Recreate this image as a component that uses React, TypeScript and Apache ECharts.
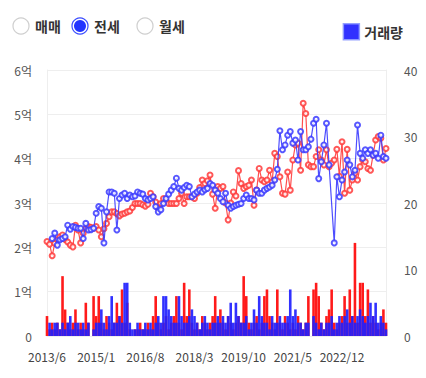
import React, { useEffect, useRef } from 'react';
import * as echarts from 'echarts';

const startYear = 2013;
const startMonth = 6;
const monthCount = 132;
const categories: string[] = [];
for (let i = 0; i < monthCount; i++) {
  const m = startMonth - 1 + i;
  categories.push(`${startYear + Math.floor(m / 12)}/${(m % 12) + 1}`);
}

const radioLabels = ['매매', '전세', '월세'];
const selectedRadio = 1;
const volumeLegend = '거래량';

// price (억)
const redPrice: (number | null)[] = [
  2.13, 2.07, 1.81, 2.09, 2.17, 2.24, 2.28, 2.18, 2.12, 2.05,
  2.01, 2.5, 2.39, 2.1, 2.32, 2.43, 2.47, 2.45, 2.43, 2.47,
  2.39, 2.24, 2.42, 2.54, 2.69, 2.8, 2.8, 2.76, 2.71, 2.75,
  2.77, 2.8, 2.82, 2.9, 2.99, 2.99, 2.99, 2.96, 2.93, 2.97,
  3.22, 3.14, 3.02, 2.88, 2.99, 3.1, 3.05, 2.99, 2.99, 2.99,
  2.99, 3.1, 3.22, 2.99, 3.14, 3.14, 3.14, 3.1, 3.22, 3.35,
  3.52, 3.44, 3.5, 3.63, 3.2, 2.88, 3.37, 3.33, 3.37, 3.0,
  2.62, 3.0, 3.25, 3.16, 3.73, 3.44, 3.33, 3.37, 3.4, 3.52,
  2.95, 3.29, 3.78, 3.52, 3.48, 3.52, 3.74, 3.48, 4.12, 4.05,
  3.59, 3.22, 3.2, 3.7, 3.29, 3.97, 4.31, 4.35, 3.74, 5.25,
  5.02, 3.86, 3.82, 3.82, 4.05, 4.2, 3.97, 3.86, 4.2, 3.82,
  3.9, 3.97, 4.21, 3.6, 4.38, 3.22, 4.21, 3.29, 3.52, 3.67,
  3.52, 3.82, 3.97, 3.93, 3.78, 3.74, 4.08, 4.42, 4.5, 4.46,
  3.97, 4.23,
];

const bluePrice: (number | null)[] = [
  null, null, 2.2, 2.32, 2.05, 2.17, 2.2, 2.24, 2.5, 2.41,
  2.47, 2.45, 2.43, 2.43, 2.2, 2.54, 2.39, 2.4, 2.43, 2.77,
  2.92, 2.88, 2.1, 2.8, 3.25, 3.25, 3.22, 2.39, 3.1, 3.18,
  3.22, 3.1, 3.18, 3.14, 3.16, 3.25, 3.22, 3.2, 3.1, 3.07,
  3.1, 3.14, 2.92, 2.8, 2.85, 2.99, 3.1, 3.2, 3.29, 3.37,
  3.56, 3.33, 3.29, 3.35, 3.4, 3.37, 3.14, 3.2, 3.25, 3.29,
  3.25, 3.3, 3.33, 3.44, 3.4, 3.29, 3.22, 3.1, 3.03, 3.22,
  2.95, 2.88, 2.92, 2.95, 2.97, 2.99, 3.1, 3.18, 3.1, 3.1,
  3.07, 3.29, 3.22, 3.22, 3.29, 3.33, 3.36, 3.4, 3.52, 3.76,
  4.63, 4.2, 4.31, 4.53, 4.61, 4.35, 4.42, 3.97, 4.61, 4.2,
  4.2, 4.27, 4.44, 4.8, 4.89, 3.55, 3.93, 4.31, 4.8, 3.86,
  null, 2.1, 3.59, 3.14, 3.52, 3.7, 3.97, 3.86, 3.59, 3.74,
  4.76, 4.12, 4.01, 4.2, 4.12, 4.2, 4.08, 4.12, 4.01, 4.53,
  4.05, 4.01,
];

// volume (건)
const redVolume: number[] = [
  3, 1, 2, 1, 2, 1, 9, 4, 2, 1,
  2, 4, 1, 2, 1, 5, 2, 0, 6, 3,
  6, 2, 1, 3, 2, 1, 2, 5, 3, 7,
  2, 5, 1, 0, 1, 1, 2, 1, 1, 2,
  1, 3, 6, 2, 1, 2, 3, 1, 2, 3,
  6, 2, 1, 8, 3, 7, 2, 1, 2, 1,
  3, 2, 1, 2, 3, 6, 2, 4, 2, 1,
  3, 2, 1, 2, 3, 2, 9, 6, 2, 1,
  2, 3, 1, 2, 6, 7, 3, 2, 1, 7,
  2, 1, 3, 2, 1, 2, 1, 3, 2, 1,
  2, 6, 0, 7, 8, 6, 2, 1, 3, 4,
  7, 2, 1, 2, 3, 6, 2, 7, 3, 14,
  2, 8, 8, 3, 7, 2, 3, 2, 1, 2,
  4, 2,
];

const blueVolume: number[] = [
  0, 2, 1, 2, 2, 1, 2, 1, 2, 3,
  1, 2, 2, 1, 2, 1, 2, 0, 1, 2,
  2, 4, 2, 1, 3, 6, 2, 2, 3, 2,
  8, 8, 2, 1, 1, 2, 1, 1, 2, 1,
  2, 1, 2, 3, 2, 6, 6, 4, 3, 2,
  2, 6, 3, 2, 2, 3, 4, 3, 2, 1,
  2, 3, 2, 1, 2, 2, 3, 2, 3, 2,
  3, 5, 2, 5, 3, 2, 2, 3, 1, 2,
  4, 2, 6, 3, 2, 2, 1, 3, 2, 2,
  3, 2, 2, 3, 7, 3, 4, 2, 2, 1,
  2, 2, 0, 3, 2, 1, 2, 1, 2, 2,
  3, 1, 2, 3, 2, 3, 4, 2, 3, 2,
  3, 4, 3, 2, 3, 5, 3, 5, 2, 3,
  2, 1,
];

const RED = '#ff1a1a';
const BLUE = '#1f1fff';
const LINE_RED = '#ff3b3b';
const LINE_BLUE = '#3b3bff';
const FONT = "'Noto Sans CJK KR', 'Noto Sans', sans-serif";

export default function App() {
  const ref = useRef<HTMLDivElement>(null);
  useEffect(() => {
    document.body.style.margin = '0';
    if (!ref.current) return;
    const chart = echarts.init(ref.current, null, { renderer: 'svg' });
    const radioX = [21, 80, 145];
    const graphics: any[] = [];
    radioLabels.forEach((label, i) => {
      const sel = i === selectedRadio;
      graphics.push({
        type: 'circle',
        shape: { cx: radioX[i], cy: 26, r: 8 },
        style: { fill: '#fff', stroke: sel ? '#3a4cff' : '#cfcfcf', lineWidth: 1.2 },
      });
      if (sel) {
        graphics.push({
          type: 'circle',
          shape: { cx: radioX[i], cy: 26, r: 6 },
          style: { fill: '#2233ff' },
        });
      }
      graphics.push({
        type: 'text',
        x: radioX[i] + 14,
        y: 26,
        style: {
          text: label,
          fill: '#333',
          font: `600 14px ${FONT}`,
          verticalAlign: 'middle',
        },
      });
    });

    chart.setOption({
      animation: false,
      textStyle: { fontFamily: FONT },
      graphic: graphics,
      legend: {
        data: [{ name: volumeLegend, icon: 'rect', itemStyle: { color: '#2020ff', borderColor: '#8f9bff', borderWidth: 1.5 } }],
        right: 18,
        top: 18,
        itemWidth: 16,
        itemHeight: 16,
        itemGap: 6,
        textStyle: { fontSize: 14, color: '#333', fontWeight: 600, fontFamily: FONT },
      },
      grid: { left: 47, right: 40, top: 70, bottom: 42 },
      xAxis: {
        type: 'category',
        data: categories,
        boundaryGap: false,
        axisLine: { show: true, lineStyle: { color: '#eeeeee' } },
        axisTick: { show: false },
        axisLabel: { interval: 18, color: '#444', fontSize: 12, margin: 14 },
        splitLine: { show: false },
      },
      yAxis: [
        {
          type: 'value',
          min: 0,
          max: 6,
          interval: 1,
          position: 'left',
          axisLine: { show: true, lineStyle: { color: '#eeeeee' } },
          axisTick: { show: false },
          splitLine: { show: true, lineStyle: { color: '#eeeeee' } },
          axisLabel: {
            color: '#555',
            fontSize: 12,
            margin: 15,
            formatter: (v: number) => (v === 0 ? '0' : `${v}억`),
          },
        },
        {
          type: 'value',
          min: 0,
          max: 40,
          interval: 10,
          position: 'right',
          axisLine: { show: true, lineStyle: { color: '#eeeeee' } },
          axisTick: { show: false },
          splitLine: { show: false },
          axisLabel: { color: '#555', fontSize: 12, margin: 18 },
        },
      ],
      series: [
        {
          name: '매물량',
          type: 'bar',
          yAxisIndex: 1,
          data: redVolume,
          barCategoryGap: '0%',
          barGap: '-100%',
          itemStyle: { color: RED },
          z: 1,
        },
        {
          name: volumeLegend,
          type: 'bar',
          yAxisIndex: 1,
          data: blueVolume,
          barCategoryGap: '0%',
          barGap: '-100%',
          itemStyle: { color: BLUE, opacity: 0.92 },
          z: 2,
        },
        {
          name: '가격1',
          type: 'line',
          yAxisIndex: 0,
          data: redPrice,
          symbol: 'emptyCircle',
          symbolSize: 5,
          showSymbol: true,
          showAllSymbol: true,
          connectNulls: true,
          lineStyle: { color: LINE_RED, width: 1.2, opacity: 0.9 },
          itemStyle: { color: LINE_RED, borderWidth: 1, opacity: 0.85 },
          z: 3,
        },
        {
          name: '가격2',
          type: 'line',
          yAxisIndex: 0,
          data: bluePrice,
          symbol: 'emptyCircle',
          symbolSize: 5,
          showSymbol: true,
          showAllSymbol: true,
          connectNulls: true,
          lineStyle: { color: LINE_BLUE, width: 1.2, opacity: 0.9 },
          itemStyle: { color: LINE_BLUE, borderWidth: 1, opacity: 0.85 },
          z: 4,
        },
      ],
    });
    return () => chart.dispose();
  }, []);
  return <div ref={ref} style={{ width: 426, height: 378 }} />;
}
